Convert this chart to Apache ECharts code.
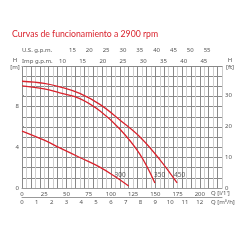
<!DOCTYPE html>
<html>
<head>
<meta charset="utf-8">
<script src="https://cdn.jsdelivr.net/npm/echarts@6/dist/echarts.min.js"></script>
<style>
  html, body { margin: 0; padding: 0; background: #fff; }
  #chart { width: 250px; height: 250px; }
</style>
</head>
<body>
<div id="chart"></div>
<script>
// curvas Q [l/min] -> H [m]
const curve300 = [[0, 5.6], [25, 4.7], [42.5, 3.95], [65, 3.0], [87.5, 2.05], [105, 1.1], [120, 0.2]]
const curve350 = [[0, 10.05], [25, 9.75], [42.5, 9.35], [65, 8.8], [87.5, 7.6], [110, 5.8], [132, 3.4], [149.5, 0.5]]
const curve450 = [[0, 10.5], [25, 10.3], [42.5, 9.95], [65, 9.3], [88, 8.2], [110, 6.7], [133, 5.0], [155, 2.8], [174.5, 0.5]]

// etiquetas de las curvas
const labelNames = ['300', '350', '450']
const labelQ = [104, 148.6, 171]
const labelH = [1.3, 1.3, 1.3]

// conversiones de escala
const qMax = 225            // l/min
const hMax = 12             // m
const usGpm = 3.78541       // l/min por U.S. g.p.m.
const impGpm = 4.54609      // l/min por Imp g.p.m.
const m3h = 1000 / 60       // l/min por m3/h
const ft = 0.3048           // m por ft

const font = 'Noto Sans'
const grey = '#555'
const red = '#d9232d'

function curveSeries(data) {
  return {
    type: 'line',
    data: data,
    smooth: 0.4,
    symbol: 'none',
    xAxisIndex: 0,
    yAxisIndex: 0,
    lineStyle: { color: red, width: 1.3 }
  }
}

const textStyle = (extra) => Object.assign({ color: grey, fontFamily: font, fontSize: 6 }, extra)

function unitText(x, lines) {
  return {
    type: 'text',
    x: x,
    y: 57,
    style: { text: lines, fill: grey, font: '6px "Noto Sans"', align: 'center', lineHeight: 7 }
  }
}

const chart = echarts.init(document.getElementById('chart'))

chart.setOption({
  animation: false,
  title: {
    text: 'Curvas de funcionamiento a 2900 rpm',
    left: 12,
    top: 30,
    padding: 0,
    textStyle: { color: red, fontFamily: 'Lato', fontSize: 8.7, fontWeight: 'normal' }
  },
  graphic: [unitText(15, 'H\n[m]'), unitText(230, 'H\n[ft]')],
  grid: { left: 22, right: 28, top: 66, bottom: 62, containLabel: false, outerBoundsMode: 'none' },
  xAxis: [
    {
      type: 'value',
      min: 0,
      max: qMax,
      interval: 5,
      name: "Q [l/1']",
      nameLocation: 'end',
      nameGap: -11,
      nameMoveOverlap: false,
      nameTextStyle: textStyle({ verticalAlign: 'top', padding: [2, 0, 0, 0] }),
      axisLine: { show: false },
      axisTick: { show: false },
      axisLabel: textStyle({
        margin: 3,
        formatter: v => (v % 25 === 0 && v < qMax ? v : '')
      }),
      splitLine: { lineStyle: { color: ['#8a8a8a', '#cdcdcd'], width: 1 } }
    },
    {
      type: 'value',
      position: 'top',
      offset: 11,
      min: 0,
      max: qMax / usGpm,
      interval: 5,
      axisLine: { show: true, lineStyle: { color: '#999' } },
      axisTick: { show: false },
      axisLabel: textStyle({
        margin: 2,
        alignMinLabel: 'left',
        formatter: v => (v === 0 ? 'U.S. g.p.m.' : v >= 15 && v <= 55 ? v : '')
      }),
      splitLine: { show: false }
    },
    {
      type: 'value',
      position: 'top',
      offset: 0,
      min: 0,
      max: qMax / impGpm,
      interval: 5,
      axisLine: { show: true, lineStyle: { color: '#888' } },
      axisTick: { show: false },
      axisLabel: textStyle({
        margin: 2,
        alignMinLabel: 'left',
        formatter: v => (v === 0 ? 'Imp g.p.m.' : v >= 10 && v <= 45 ? v : '')
      }),
      splitLine: { show: false }
    },
    {
      type: 'value',
      position: 'bottom',
      offset: 9.5,
      min: 0,
      max: qMax / m3h,
      interval: 1,
      name: 'Q [m³/h]',
      nameLocation: 'end',
      nameGap: -11,
      nameMoveOverlap: false,
      nameTextStyle: textStyle({ verticalAlign: 'top', padding: [2, 0, 0, 0] }),
      axisLine: { show: true, lineStyle: { color: '#999' } },
      axisTick: { show: false },
      axisLabel: textStyle({
        margin: 2,
        formatter: v => (v <= 12 ? v : '')
      }),
      splitLine: { show: false }
    }
  ],
  yAxis: [
    {
      type: 'value',
      min: 0,
      max: hMax,
      interval: 1,
      axisLine: { show: false },
      axisTick: { show: false },
      axisLabel: textStyle({
        margin: 3,
        formatter: v => (v % 4 === 0 && v < hMax ? v : '')
      }),
      splitLine: { lineStyle: { color: '#8a8a8a', width: 1 } }
    },
    {
      type: 'value',
      position: 'right',
      min: 0,
      max: hMax / ft,
      interval: 10,
      axisLine: { show: false },
      axisTick: { show: true, length: 2, lineStyle: { color: '#999' } },
      axisLabel: textStyle({
        margin: 3,
        formatter: v => (v % 10 === 0 ? v : '')
      }),
      splitLine: { show: false }
    }
  ],
  series: [
    curveSeries(curve300),
    curveSeries(curve350),
    curveSeries(curve450),
    {
      type: 'scatter',
      symbolSize: 0,
      silent: true,
      data: labelNames.map((n, i) => ({ name: n, value: [labelQ[i], labelH[i]] })),
      label: {
        show: true,
        position: 'right',
        distance: 0,
        formatter: p => p.name,
        color: '#333',
        fontFamily: font,
        fontSize: 6.5
      }
    }
  ]
})
</script>
</body>
</html>
